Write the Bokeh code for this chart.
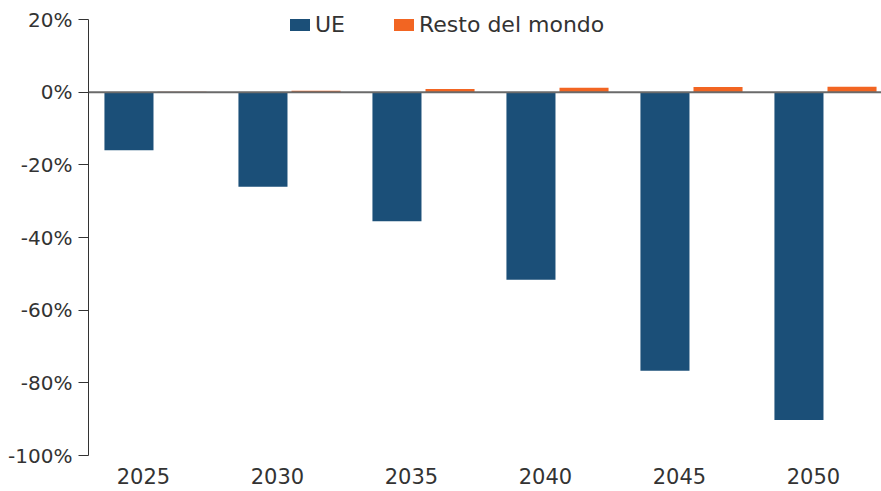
from bokeh.plotting import figure
from bokeh.models import Range1d, FixedTicker, CustomJSTickFormatter, Span, ColumnDataSource
from bokeh.embed import file_html
from bokeh.resources import INLINE

years = ["2025", "2030", "2035", "2040", "2045", "2050"]
ue = [-16.0, -26.0, -35.5, -51.6, -76.7, -90.2]
resto = [0.1, 0.4, 0.9, 1.2, 1.4, 1.5]
y_ticks = [-100, -80, -60, -40, -20, 0, 20]

FONT = "DejaVu Sans"
TXT = "#333333"
BLUE = "#1b4f78"
ORANGE = "#f26522"

idx = list(range(len(years)))
src = ColumnDataSource(dict(
    x_ue=[i - 0.198 for i in idx],
    x_re=[i + 0.198 for i in idx],
    ue=ue, resto=resto,
))

p = figure(width=881, height=491, output_backend="svg", toolbar_location=None,
           x_range=Range1d(-0.5, 5.418), y_range=Range1d(-100, 25.23),
           min_border_left=88, min_border_right=0, min_border_top=0, min_border_bottom=36)
p.outline_line_color = None
p.xgrid.visible = False
p.ygrid.visible = False
p.background_fill_color = "white"
p.border_fill_color = "white"

p.vbar(x="x_ue", top="ue", bottom=0, width=0.366, source=src, fill_color=BLUE,
       line_color=None, legend_label="UE")
p.vbar(x="x_re", top="resto", bottom=0, width=0.366, source=src, fill_color=ORANGE,
       line_color=None, legend_label="Resto del mondo")

p.add_layout(Span(location=0, dimension="width", line_color="#6a6a6a", line_width=2))

# y axis
ya = p.yaxis[0]
ya.bounds = (-100, 20)
ya.ticker = FixedTicker(ticks=y_ticks)
ya.formatter = CustomJSTickFormatter(code="return tick.toFixed(0) + '%';")
ya.axis_line_color = TXT
ya.major_tick_line_color = TXT
ya.major_tick_in = 0
ya.major_tick_out = 10
ya.minor_tick_line_color = None
ya.major_label_standoff = 6
ya.major_label_text_font = FONT
ya.major_label_text_font_size = "20px"
ya.major_label_text_color = TXT

# x axis
xa = p.xaxis[0]
xa.ticker = FixedTicker(ticks=[i - 0.09 for i in idx])
xa.formatter = CustomJSTickFormatter(args=dict(labels=years),
                                     code="return labels[Math.round(tick + 0.09)];")
xa.axis_line_color = None
xa.major_tick_line_color = None
xa.minor_tick_line_color = None
xa.major_label_standoff = 6
xa.major_label_text_font = FONT
xa.major_label_text_font_size = "21px"
xa.major_label_text_color = TXT

lg = p.legend[0]
lg.orientation = "horizontal"
lg.location = (199, 418)
lg.label_text_font = FONT
lg.label_text_font_size = "22px"
lg.label_text_color = TXT
lg.glyph_width = 25
lg.glyph_height = 15
lg.label_standoff = 3
lg.spacing = 46
lg.padding = 0
lg.margin = 0
lg.border_line_color = None
lg.background_fill_alpha = 0

open("out.html", "w").write(file_html(p, INLINE))
